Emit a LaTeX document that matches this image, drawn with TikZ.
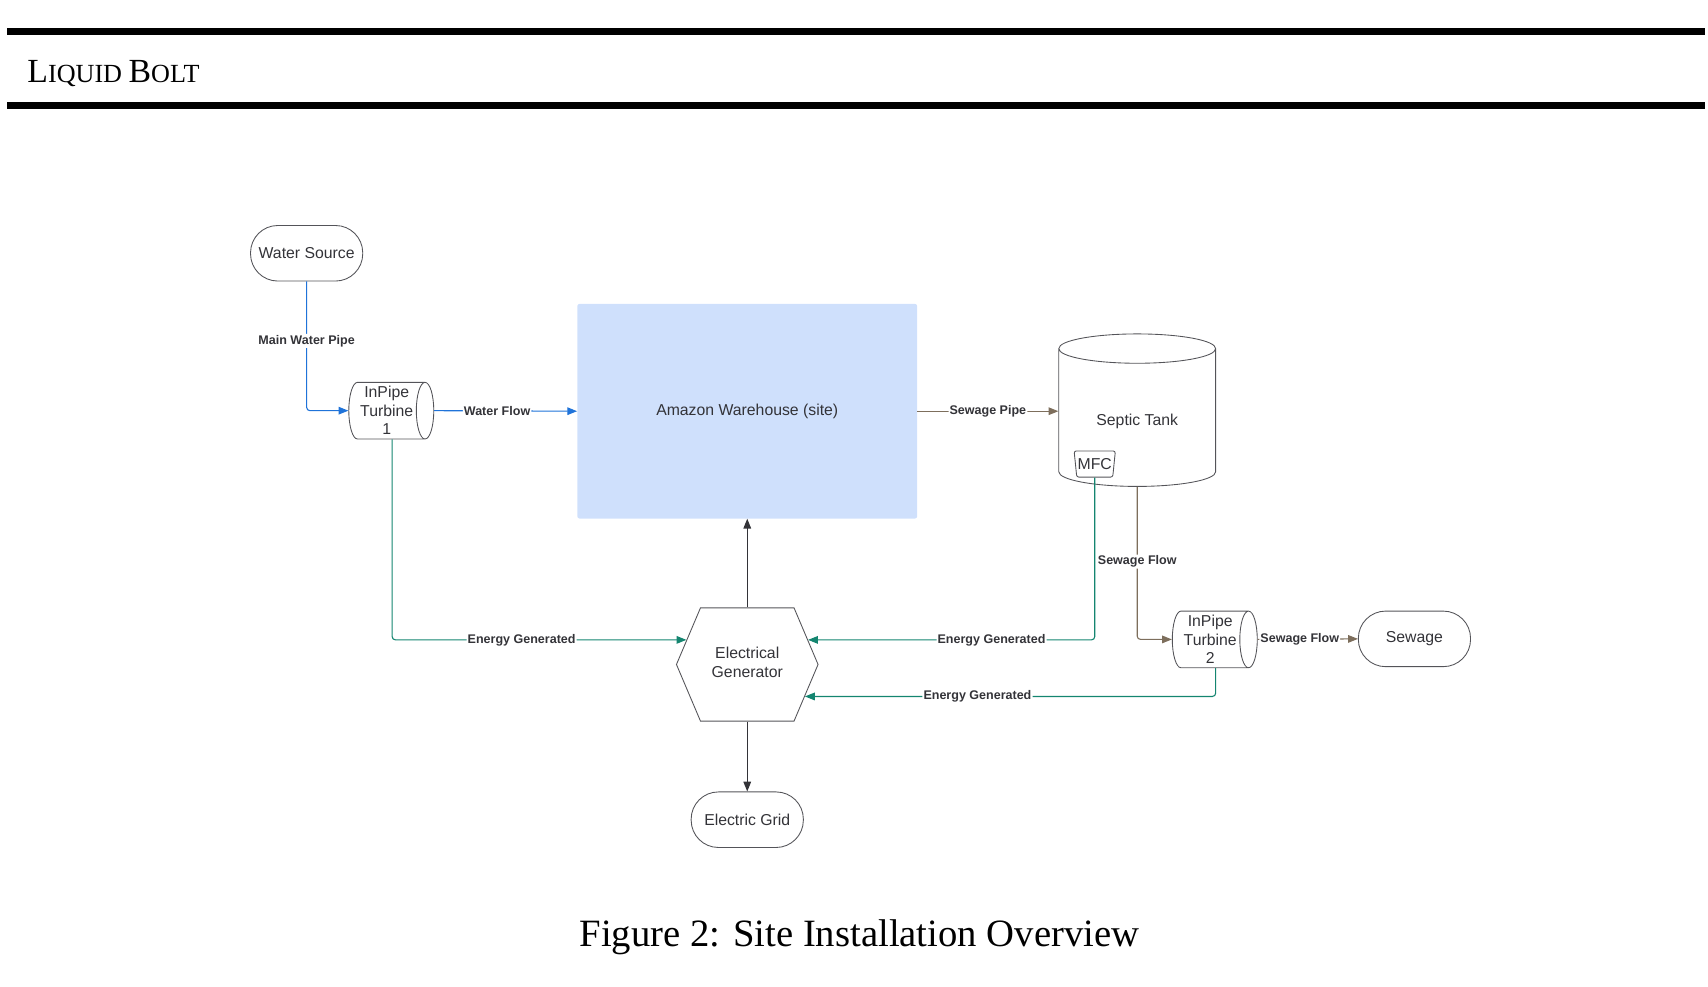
\documentclass[tikz,border=0pt]{standalone}
\usepackage{fontspec}
\setmainfont{Liberation Serif}
\newfontfamily\chartfont{Liberation Sans}
\usepackage{tikz}
\usetikzlibrary{arrows.meta,shapes.geometric,shapes.symbols}
\definecolor{pipeBlue}{rgb}{0.12,0.45,0.85}
\definecolor{energyTeal}{rgb}{0.08,0.52,0.44}
\definecolor{sewageBrown}{rgb}{0.49,0.43,0.36}
\definecolor{outlineGray}{rgb}{0.33,0.33,0.35}
\definecolor{textGray}{rgb}{0.2,0.2,0.22}
\definecolor{siteBlue}{rgb}{0.81,0.88,0.99}

\begin{document}
\begin{tikzpicture}[x=1pt, y=-1pt,
  every node/.style={text=textGray, font=\chartfont\fontsize{14.5}{17}\selectfont},
  outline/.style={draw=outlineGray, line width=0.8pt},
  terminal/.style={outline, rectangle, rounded corners=25pt, minimum width=103pt, minimum height=51pt},
  turbine/.style={outline, cylinder, aspect=0.36, minimum height=78pt, minimum width=52pt, inner sep=0pt, align=center},
  tank/.style={outline, cylinder, shape border rotate=90, aspect=0.33, minimum width=144pt, minimum height=140pt},
  mfc/.style={outline, trapezium, shape border rotate=180, trapezium angle=78, trapezium stretches=true, minimum width=38pt, minimum height=24pt, inner sep=0.5pt, rounded corners=2pt},
  site/.style={rectangle, fill=siteBlue, rounded corners=2pt, minimum width=312pt, minimum height=197pt},
  generator/.style={outline, signal, signal to=east and west, signal pointer angle=134, minimum width=130pt, minimum height=104pt, align=center},
  flowlabel/.style={fill=white, inner sep=1pt, font=\chartfont\bfseries\fontsize{11.5}{13}\selectfont},
  link/.style={line width=1pt, rounded corners=3pt, -{Triangle[length=9pt, width=7pt]}},
  water/.style={link, pipeBlue},
  sewer/.style={link, sewageBrown},
  energy/.style={link, energyTeal},
  power/.style={link, textGray}]
  \useasboundingbox (0,0) rectangle (1568,905.2);

  % header
  \draw[line width=6.4pt] (6.7,29) -- (1565,29);
  \draw[line width=6.4pt] (6.7,96.7) -- (1565,96.7);
  \node[anchor=base west, text=black, inner sep=0pt, font=\rmfamily] (header) at (25,76)
    {\fontsize{31}{36}\selectfont L\fontsize{24}{28}\selectfont IQUID \fontsize{31}{36}\selectfont B\fontsize{24}{28}\selectfont OLT};

  % shapes
  \node[terminal] (source) at (281.5,232.5) {Water Source};
  \node[turbine] (tone) at (355,377) {InPipe\\Turbine\\1};
  \node[site] (site) at (686,377.5) {Amazon Warehouse (site)};
  \node[tank] (tank) at (1044,385.5) {\raisebox{-14pt}{Septic Tank}};
  \node[mfc] (mfc) at (1005,426) {MFC};
  \node[turbine] (ttwo) at (1111,587) {InPipe\\Turbine\\2};
  \node[terminal] (sewage) at (1298.5,586.5) {Sewage};
  \node[generator] (gen) at (686,610) {\raisebox{3pt}{\begin{tabular}{@{}c@{}}Electrical\\Generator\end{tabular}}};
  \node[terminal] (grid) at (686,752.5) {Electric Grid};

  % water side
  \draw[water] (source.south) |- node[flowlabel, pos=0.23] {Main Water Pipe} (tone.west);
  \draw[water] (tone.east) -- node[flowlabel, pos=0.44] {Water Flow} (site.west);

  % sewage side
  \draw[sewer] (site.east) -- node[flowlabel] {Sewage Pipe} (site.east -| tank.west);
  \draw[sewer] (tank.south) |- node[flowlabel, pos=0.245] {Sewage Flow} (ttwo.west);
  \draw[sewer] (ttwo.east) -- node[flowlabel, pos=0.42] {Sewage Flow} (sewage.west);

  % energy
  \draw[energy] ([xshift=5pt]tone.south) |- node[flowlabel, pos=0.72] {Energy Generated} (gen.158);
  \draw[energy] (mfc.south) |- node[flowlabel, pos=0.68] {Energy Generated} (gen.22);
  \draw[energy] ([xshift=5pt]ttwo.south) |- node[flowlabel, pos=0.79] {Energy Generated} (gen.-29);
  \draw[power] (gen.north) -- (site.south);
  \draw[power] (gen.south) -- (grid.north);

  % caption
  \node[text=black, font=\rmfamily\fontsize{35.5}{42}\selectfont] (caption) at (789,860) {Figure 2: Site Installation Overview};
\end{tikzpicture}
\end{document}
